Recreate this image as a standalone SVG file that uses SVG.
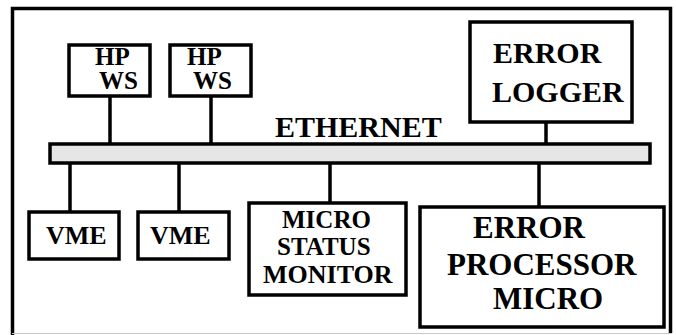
<svg xmlns="http://www.w3.org/2000/svg" width="676" height="335" viewBox="0 0 676 335">
<rect width="676" height="335" fill="#fff"/>
<g id="frame">
<path d="M12.5,335 V8.5 H670.5 V333" fill="none" stroke="#000" stroke-width="3.5"/>
<line x1="12" y1="333.5" x2="672" y2="333.5" stroke="#c8c8c8" stroke-width="1"/>
</g>
<g id="connectors" stroke="#000" stroke-width="3.5">
<line x1="110" y1="97" x2="110" y2="144"/>
<line x1="211" y1="97" x2="211" y2="144"/>
<line x1="546" y1="122" x2="546" y2="144"/>
<line x1="70" y1="163" x2="70" y2="211"/>
<line x1="179" y1="163" x2="179" y2="211"/>
<line x1="330" y1="163" x2="330" y2="203"/>
<line x1="539" y1="163" x2="539" y2="207"/>
</g>
<g id="ethernet">
<rect x="50" y="144" width="600" height="19" fill="#e6e6e6" stroke="#000" stroke-width="3.5"/>
<text x="275" y="137" font-size="30" font-weight="bold" style="font-family:'Liberation Serif'">ETHERNET</text>
</g>
<g id="hpws1">
<rect x="69" y="45" width="81" height="51" fill="#fff" stroke="#000" stroke-width="3.5"/>
<text x="95" y="65" font-size="25" font-weight="bold" style="font-family:'Liberation Serif'">HP</text>
<text x="99" y="89" font-size="25" font-weight="bold" style="font-family:'Liberation Serif'">WS</text>
</g>
<g id="hpws2">
<rect x="170" y="45" width="81" height="51" fill="#fff" stroke="#000" stroke-width="3.5"/>
<text x="187" y="65" font-size="25" font-weight="bold" style="font-family:'Liberation Serif'">HP</text>
<text x="193" y="89" font-size="25" font-weight="bold" style="font-family:'Liberation Serif'">WS</text>
</g>
<g id="errorlogger">
<rect x="470" y="22" width="162" height="100" fill="#fff" stroke="#000" stroke-width="3.5"/>
<text x="493" y="63" font-size="30" font-weight="bold" style="font-family:'Liberation Serif'">ERROR</text>
<text x="492" y="102" font-size="30" font-weight="bold" style="font-family:'Liberation Serif'">LOGGER</text>
</g>
<g id="vme1">
<rect x="29" y="212" width="90" height="47" fill="#fff" stroke="#000" stroke-width="3.5"/>
<text x="46" y="244" font-size="26" font-weight="bold" style="font-family:'Liberation Serif'">VME</text>
</g>
<g id="vme2">
<rect x="138" y="212" width="91" height="47" fill="#fff" stroke="#000" stroke-width="3.5"/>
<text x="150" y="244" font-size="26" font-weight="bold" style="font-family:'Liberation Serif'">VME</text>
</g>
<g id="microstatus">
<rect x="249" y="203" width="157" height="92" fill="#fff" stroke="#000" stroke-width="3.5"/>
<text x="282" y="228" font-size="25" font-weight="bold" style="font-family:'Liberation Serif'">MICRO</text>
<text x="277" y="255" font-size="25" font-weight="bold" style="font-family:'Liberation Serif'">STATUS</text>
<text x="263" y="283" font-size="26" font-weight="bold" style="font-family:'Liberation Serif'">MONITOR</text>
</g>
<g id="errorprocessor">
<rect x="420" y="207" width="244" height="120" fill="#fff" stroke="#000" stroke-width="3.5"/>
<text x="473" y="238" font-size="31" font-weight="bold" style="font-family:'Liberation Serif'">ERROR</text>
<text x="447" y="275" font-size="31" font-weight="bold" style="font-family:'Liberation Serif'">PROCESSOR</text>
<text x="493" y="309" font-size="31" font-weight="bold" style="font-family:'Liberation Serif'">MICRO</text>
</g>
</svg>
